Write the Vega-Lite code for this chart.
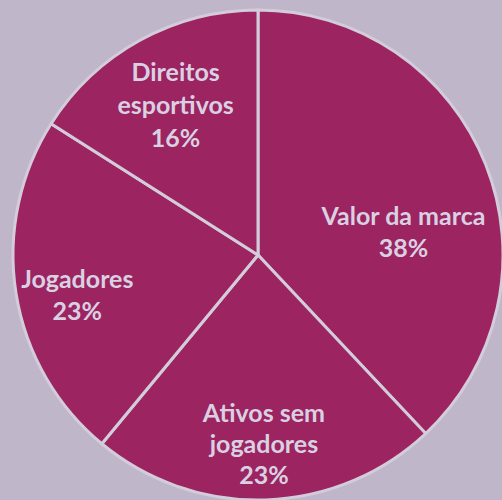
{
  "$schema": "https://vega.github.io/schema/vega-lite/v6.json",
  "width": 488,
  "height": 490,
  "padding": {"left": 14, "top": 10, "right": 0, "bottom": 0},
  "autosize": {"type": "none"},
  "background": "#BFB7C9",
  "view": {"stroke": null},
  "data": {
    "values": [
      {"cat": "Valor da marca", "label": ["Valor da marca", "38%"], "value": 38, "order": 1},
      {"cat": "Ativos sem jogadores", "label": ["Ativos sem", "jogadores", "23%"], "value": 23, "order": 2},
      {"cat": "Jogadores", "label": ["Jogadores", "23%"], "value": 23, "order": 3},
      {"cat": "Direitos esportivos", "label": ["Direitos", "esportivos", "16%"], "value": 16, "order": 4}
    ]
  },
  "transform": [
    {"stack": "value", "groupby": [], "sort": [{"field": "order", "order": "ascending"}], "as": ["v0", "v1"]},
    {"calculate": "(datum.v0 + datum.v1) / 2", "as": "mid"}
  ],
  "layer": [
    {
      "mark": {"type": "arc", "outerRadius": 245, "fill": "#9C2461", "stroke": "#D3CCDB", "strokeWidth": 3},
      "encoding": {
        "theta": {"field": "v0", "type": "quantitative", "scale": {"domain": [0, 100]}},
        "theta2": {"field": "v1"}
      }
    },
    {
      "transform": [{"filter": "datum.cat == 'Direitos esportivos'"}],
      "mark": {"type": "text", "radius": 171, "dy": -32, "font": "Lato", "fontWeight": "bold", "fontSize": 25, "lineHeight": 33, "fill": "#D9D1E2", "align": "center", "baseline": "middle"},
      "encoding": {"theta": {"field": "mid", "type": "quantitative"}, "text": {"field": "label"}}
    },
    {
      "transform": [{"filter": "datum.cat == 'Valor da marca'"}],
      "mark": {"type": "text", "radius": 150, "dx": 6, "dy": 17, "font": "Lato", "fontWeight": "bold", "fontSize": 25, "lineHeight": 32, "fill": "#D9D1E2", "align": "center", "baseline": "middle"},
      "encoding": {"theta": {"field": "mid", "type": "quantitative"}, "text": {"field": "label"}}
    },
    {
      "transform": [{"filter": "datum.cat == 'Jogadores'"}],
      "mark": {"type": "text", "radius": 186, "dx": 3, "dy": -4, "font": "Lato", "fontWeight": "bold", "fontSize": 25, "lineHeight": 32, "fill": "#D9D1E2", "align": "center", "baseline": "middle"},
      "encoding": {"theta": {"field": "mid", "type": "quantitative"}, "text": {"field": "label"}}
    },
    {
      "transform": [{"filter": "datum.cat == 'Ativos sem jogadores'"}],
      "mark": {"type": "text", "radius": 189, "dy": -30, "font": "Lato", "fontWeight": "bold", "fontSize": 25, "lineHeight": 31, "fill": "#D9D1E2", "align": "center", "baseline": "middle"},
      "encoding": {"theta": {"field": "mid", "type": "quantitative"}, "text": {"field": "label"}}
    }
  ]
}
